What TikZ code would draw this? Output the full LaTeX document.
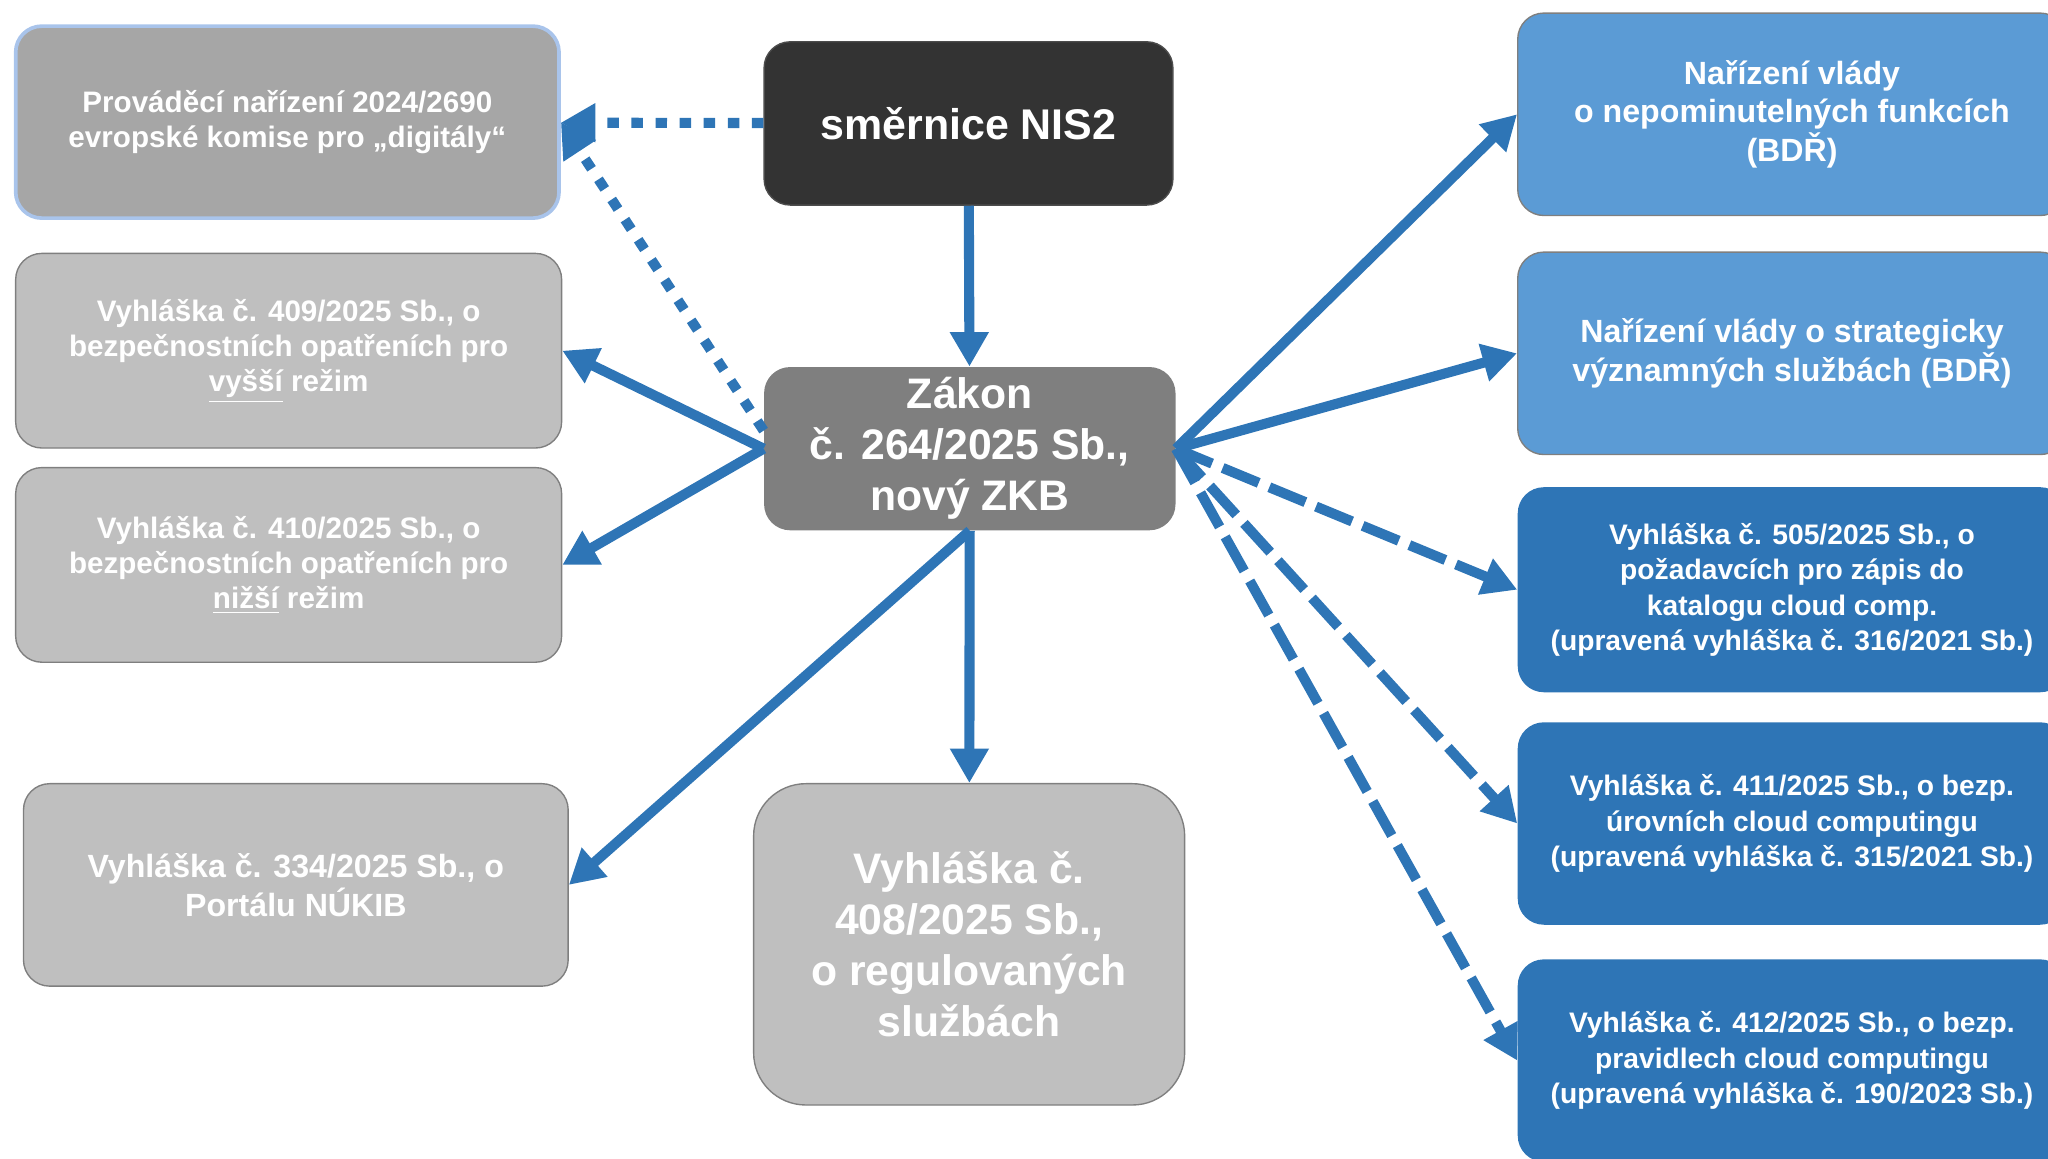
\documentclass[tikz,border=0pt]{standalone}
\usepackage{fontspec}
\setmainfont{Liberation Sans}
\usetikzlibrary{arrows.meta}

\definecolor{nisdark}{HTML}{333333}
\definecolor{zkbgray}{HTML}{7F7F7F}
\definecolor{provgray}{HTML}{A6A6A6}
\definecolor{vyhgray}{HTML}{BFBFBF}
\definecolor{nvblue}{HTML}{5B9BD5}
\definecolor{vyhblue}{HTML}{2E75B6}
\definecolor{linkblue}{HTML}{2E75B6}
\definecolor{provedge}{HTML}{A9C4EB}

\begin{document}
\begin{tikzpicture}[x=0.2mm, y=-0.2mm,
  box/.style={rectangle, rounded corners=4mm, text=white, align=center, inner sep=0pt},
  bigtext/.style={font={\fontsize{18.6}{22.2}\selectfont\bfseries}},
  midtext/.style={font={\fontsize{14}{16.8}\selectfont\bfseries}},
  smalltext/.style={font={\fontsize{12.9}{15.4}\selectfont\bfseries}},
  cloudtext/.style={font={\fontsize{12.3}{15.4}\selectfont\bfseries}},
  leftbox/.style={box, fill=vyhgray, draw=zkbgray, line width=0.6pt, minimum width=83.6mm, minimum height=29.8mm},
  rightbox/.style={box, minimum width=84mm, minimum height=31mm},
  link/.style={draw=linkblue, line width=4.4pt, -{Triangle[length=15pt,width=16pt]}},
  dotlink/.style={link, dash pattern=on 5pt off 5.5pt},
  dashlink/.style={link, dash pattern=on 17pt off 5pt}]
  \useasboundingbox (0,0) rectangle (1568,887);
  \node[box, smalltext, fill=provgray, draw=provedge, line width=1.6pt, minimum width=83.2mm, minimum height=29.4mm] (prov) at (220,93.5)
    {Prováděcí nařízení 2024/2690\\evropské komise pro „digitály“};
  \node[box, fill=nisdark, draw=black!70, line width=0.6pt, minimum width=62.6mm, minimum height=25mm,
    font={\fontsize{18.7}{22}\selectfont\bfseries}] (nis) at (741.5,94.5) {směrnice NIS2};
  \node[box, bigtext, fill=zkbgray, minimum width=63mm, minimum height=25mm] (zakon) at (742.5,343.5)
    {Zákon\\č. 264/2025 Sb.,\\nový ZKB};
  \node[leftbox, smalltext] (v409) at (221,268.5)
    {Vyhláška č. 409/2025 Sb., o\\bezpečnostních opatřeních pro\\\underline{vyšší} režim};
  \node[leftbox, smalltext] (v410) at (221,432.5)
    {Vyhláška č. 410/2025 Sb., o\\bezpečnostních opatřeních pro\\\underline{nižší} režim};
  \node[leftbox, midtext, minimum width=83.4mm, minimum height=31mm] (v334) at (226.5,677.5)
    {Vyhláška č. 334/2025 Sb., o\\Portálu NÚKIB};
  \node[leftbox, bigtext, rounded corners=8mm, minimum width=66mm, minimum height=49.2mm] (v408) at (742,723)
    {Vyhláška č.\\408/2025 Sb.,\\o regulovaných\\službách};
  \node[rightbox, midtext, fill=nvblue, draw=zkbgray, line width=0.6pt] (nv1) at (1372,87.5)
    {Nařízení vlády\\o nepominutelných funkcích\\(BDŘ)};
  \node[rightbox, midtext, fill=nvblue, draw=zkbgray, line width=0.6pt] (nv2) at (1372,270.5)
    {Nařízení vlády o strategicky\\významných službách (BDŘ)};
  \node[rightbox, cloudtext, fill=vyhblue, minimum height=31.4mm] (v505) at (1372,451.5)
    {Vyhláška č. 505/2025 Sb., o\\požadavcích pro zápis do\\katalogu cloud comp.\\(upravená vyhláška č. 316/2021 Sb.)};
  \node[rightbox, cloudtext, fill=vyhblue] (v411) at (1372,630.5)
    {Vyhláška č. 411/2025 Sb., o bezp.\\úrovních cloud computingu\\(upravená vyhláška č. 315/2021 Sb.)};
  \node[rightbox, cloudtext, fill=vyhblue] (v412) at (1372,812)
    {Vyhláška č. 412/2025 Sb., o bezp.\\pravidlech cloud computingu\\(upravená vyhláška č. 190/2023 Sb.)};
  \draw[link] (nis) -- (zakon);
  \draw[dotlink] (nis) -- (prov);
  \draw[dotlink] (zakon.175) -- (prov.east);
  \draw[link] (zakon.west) -- (v409.east);
  \draw[link] (zakon.west) -- (v410.east);
  \draw[link] (zakon.south) -- (v334.east);
  \draw[link] (zakon) -- (v408);
  \draw[link] (zakon.east) -- (nv1.west);
  \draw[link] (zakon.east) -- (nv2.west);
  \draw[dashlink] (zakon.east) -- (v505.west);
  \draw[dashlink] (zakon.east) -- (v411.west);
  \draw[dashlink] (zakon.east) -- (v412.west);
\end{tikzpicture}
\end{document}
